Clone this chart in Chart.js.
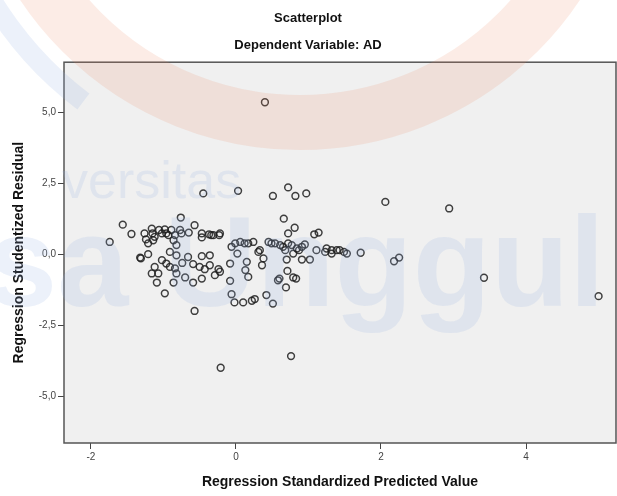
<!DOCTYPE html>
<html>
<head>
<meta charset="utf-8">
<script src="https://cdn.jsdelivr.net/npm/chart.js@4.4.1/dist/chart.umd.min.js"></script>
<style>
    body { margin: 0; background: #fff; }
    #wrap { position: relative; width: 617px; height: 496px; overflow: hidden; }
    #wm { position: absolute; left: 0; top: 0; width: 617px; height: 496px; pointer-events: none; }
    .ring { position: absolute; border-radius: 50%; box-sizing: border-box; }
    .wm-text { position: absolute; font-family: "Liberation Sans", Arial, sans-serif; color: rgba(150, 180, 225, 0.18); white-space: nowrap; }
</style>
</head>
<body>
<div id="wrap">
    <canvas id="scatterChart" width="617" height="496"></canvas>
    <!-- faint logo watermark that sits over the whole picture -->
    <div id="wm">
        <div class="ring" style="left:-70px; top:-556px; width:740px; height:740px; border:20px solid transparent; border-left-color:rgba(150,180,225,0.18); transform:rotate(-8deg);"></div>
        <div class="ring" style="left:-36px; top:-522px; width:672px; height:672px; border:55px solid rgba(235,125,90,0.15);"></div>
        <div class="wm-text" style="left:62px; top:150px; font-size:52px;">versitas</div>
        <div class="wm-text" style="left:-14px; top:188px; font-size:128px; font-weight:bold;">sa Unggul</div>
    </div>
</div>
<script>
// Axis ticks
const xTicks = [-2, 0, 2, 4];
const yTicks = [-5, -2.5, 0, 2.5, 5];

// Regression standardized predicted value (x) and studentized residual (y)
const xValues = [
    0.40, -0.45, 0.03, 0.51, 0.72, 0.82, 0.97, 2.06, 2.94, -0.76, 0.66, -1.56, -0.57,
    -1.44, -1.74, -0.65, -0.47, -0.37, -0.34, -0.23, -1.26, -1.16, -1.15, -1.06, -0.98,
    -0.96, -0.89, -0.84, -0.77, -0.75, -1.24, -1.14, -1.21, -1.12, -1.02, -0.93, -0.86,
    -0.82, -0.47, -0.31, -0.22,
    -1.32, -1.31, -1.21, -1.12, -1.16, -1.07, -1.09, -0.98, -0.57, -0.86, -0.70, -0.59,
    -0.47, -1.02, -0.96, -0.91, -0.84, -0.82, -0.91, -0.82, -0.74, -0.66, -0.59, -0.47,
    -0.36, -0.50, -0.43, -0.36, -0.29, -0.24, -0.22,
    -0.06, -0.01, 0.06, 0.12, 0.17, 0.24, 0.33, 0.45, 0.49, 0.54, 0.61, 0.65, 0.72,
    0.77, 0.84, 0.91, 0.95, 1.11, 1.25, 1.32, 1.39, 1.43, 1.49, 1.72, 0.81, 0.72, 1.08,
    1.14, 0.02, -0.08, 0.15, 0.13, 0.17, -0.08, 0.38, 0.36, -0.06, -0.02, 0.10, 0.22,
    0.26, 0.42, 0.51, 0.58, 0.60, 0.71, 0.79, 0.83, 0.69, 0.70, 0.91, 1.02, 1.23, 1.32,
    1.53, 0.31, 0.68, 0.79, 0.87, 0.76, -0.21, 2.18, 2.25, 3.42, 5.00
];
const yValues = [
    5.35, 2.14, 2.23, 2.05, 2.35, 2.05, 2.14, 1.84, 1.61, 1.29, 1.25, 1.04, 1.02,
    0.71, 0.43, 0.76, 0.59, 0.70, 0.67, 0.67, 0.73, 0.90, 0.73, 0.85, 0.87,
    0.73, 0.85, 0.67, 0.85, 0.73, 0.52, 0.49, 0.38, 0.61, 0.73, 0.67, 0.49,
    0.32, 0.73, 0.67, 0.73,
    -0.12, -0.15, 0.00, -0.45, -0.68, -0.68, -1.00, -1.38, -2.00, -1.00, -0.82, -1.00,
    -0.86, -0.21, -0.33, -0.45, -0.50, -0.68, 0.08, -0.04, -0.31, -0.10, -0.35, -0.07,
    -0.04, -0.45, -0.53, -0.39, -0.74, -0.53, -0.62,
    0.26, 0.38, 0.43, 0.38, 0.38, 0.43, 0.14, 0.43, 0.38, 0.38, 0.32, 0.26, 0.38,
    0.32, 0.20, 0.26, 0.34, 0.14, 0.20, 0.14, 0.14, 0.14, 0.08, 0.05, 0.93, 0.73, 0.70,
    0.76, 0.02, -0.33, -0.27, -0.56, -0.80, -0.94, -0.15, -0.39, -1.41, -1.70, -1.70, -1.64,
    -1.58, -1.44, -1.74, -0.92, -0.86, -0.59, -0.82, -0.86, -1.17, -0.19, -0.19, -0.19, 0.08, 0.02,
    0.02, 0.08, 0.14, 0.02, 0.14, -3.59, -4.00, -0.25, -0.12, -0.83, -1.48
];

const points = xValues.map((x, i) => ({ x: x, y: yValues[i] }));

const fontFamily = '"Liberation Sans", Arial, sans-serif';

// Gray plot area with a frame all round, like SPSS
const plotFrame = {
    id: 'plotFrame',
    beforeDraw(chart) {
        const { ctx, chartArea: a } = chart;
        ctx.save();
        ctx.fillStyle = '#f0f0f0';
        ctx.fillRect(a.left, a.top, a.right - a.left, a.bottom - a.top);
        ctx.restore();
    },
    afterDraw(chart) {
        const { ctx, chartArea: a } = chart;
        ctx.save();
        ctx.strokeStyle = '#555';
        ctx.lineWidth = 1.5;
        ctx.strokeRect(a.left, a.top, a.right - a.left, a.bottom - a.top);
        ctx.restore();
    }
};

const ctx = document.getElementById('scatterChart').getContext('2d');
const scatterChart = new Chart(ctx, {
    type: 'scatter',
    data: {
        datasets: [{
            data: points,
            pointRadius: 3.4,
            pointHoverRadius: 3.4,
            borderWidth: 1.5,
            borderColor: 'rgba(30, 30, 30, 0.85)',
            backgroundColor: 'rgba(0, 0, 0, 0)'
        }]
    },
    options: {
        responsive: false,
        animation: false,
        layout: { autoPadding: false, padding: { left: 0, right: 1, top: 0, bottom: 0 } },
        plugins: {
            legend: { display: false },
            tooltip: { enabled: false },
            title: {
                display: true,
                text: 'Scatterplot',
                color: '#111',
                font: { family: fontFamily, size: 13, weight: 'bold' },
                padding: { top: 11, bottom: 6 }
            },
            subtitle: {
                display: true,
                text: 'Dependent Variable: AD',
                color: '#111',
                font: { family: fontFamily, size: 13, weight: 'bold' },
                padding: { top: 5, bottom: 9 }
            }
        },
        scales: {
            x: {
                type: 'linear',
                min: -2.37,
                max: 5.24,
                afterBuildTicks: scale => { scale.ticks = xTicks.map(v => ({ value: v })); },
                afterFit: scale => { scale.height = 53; },
                grid: { drawOnChartArea: false, drawTicks: true, tickLength: 6, tickColor: '#444' },
                border: { display: false },
                ticks: {
                    color: '#444',
                    padding: 2,
                    maxRotation: 0,
                    font: { family: fontFamily, size: 10 },
                    callback: value => String(value)
                },
                title: {
                    display: true,
                    text: 'Regression Standardized Predicted Value',
                    color: '#111',
                    font: { family: fontFamily, size: 14, weight: 'bold' },
                    padding: { top: 0, bottom: 5 }
                }
            },
            y: {
                type: 'linear',
                min: -6.65,
                max: 6.76,
                afterBuildTicks: scale => { scale.ticks = yTicks.map(v => ({ value: v })); },
                afterFit: scale => { scale.width = 64; },
                grid: { drawOnChartArea: false, drawTicks: true, tickLength: 6, tickColor: '#444' },
                border: { display: false },
                ticks: {
                    color: '#444',
                    padding: 2,
                    font: { family: fontFamily, size: 10 },
                    callback: value => value.toFixed(1).replace('.', ',')
                },
                title: {
                    display: true,
                    text: 'Regression Studentized Residual',
                    color: '#111',
                    font: { family: fontFamily, size: 14, weight: 'bold' },
                    padding: { top: 11, bottom: 0 }
                }
            }
        }
    },
    plugins: [plotFrame]
});
</script>
</body>
</html>
